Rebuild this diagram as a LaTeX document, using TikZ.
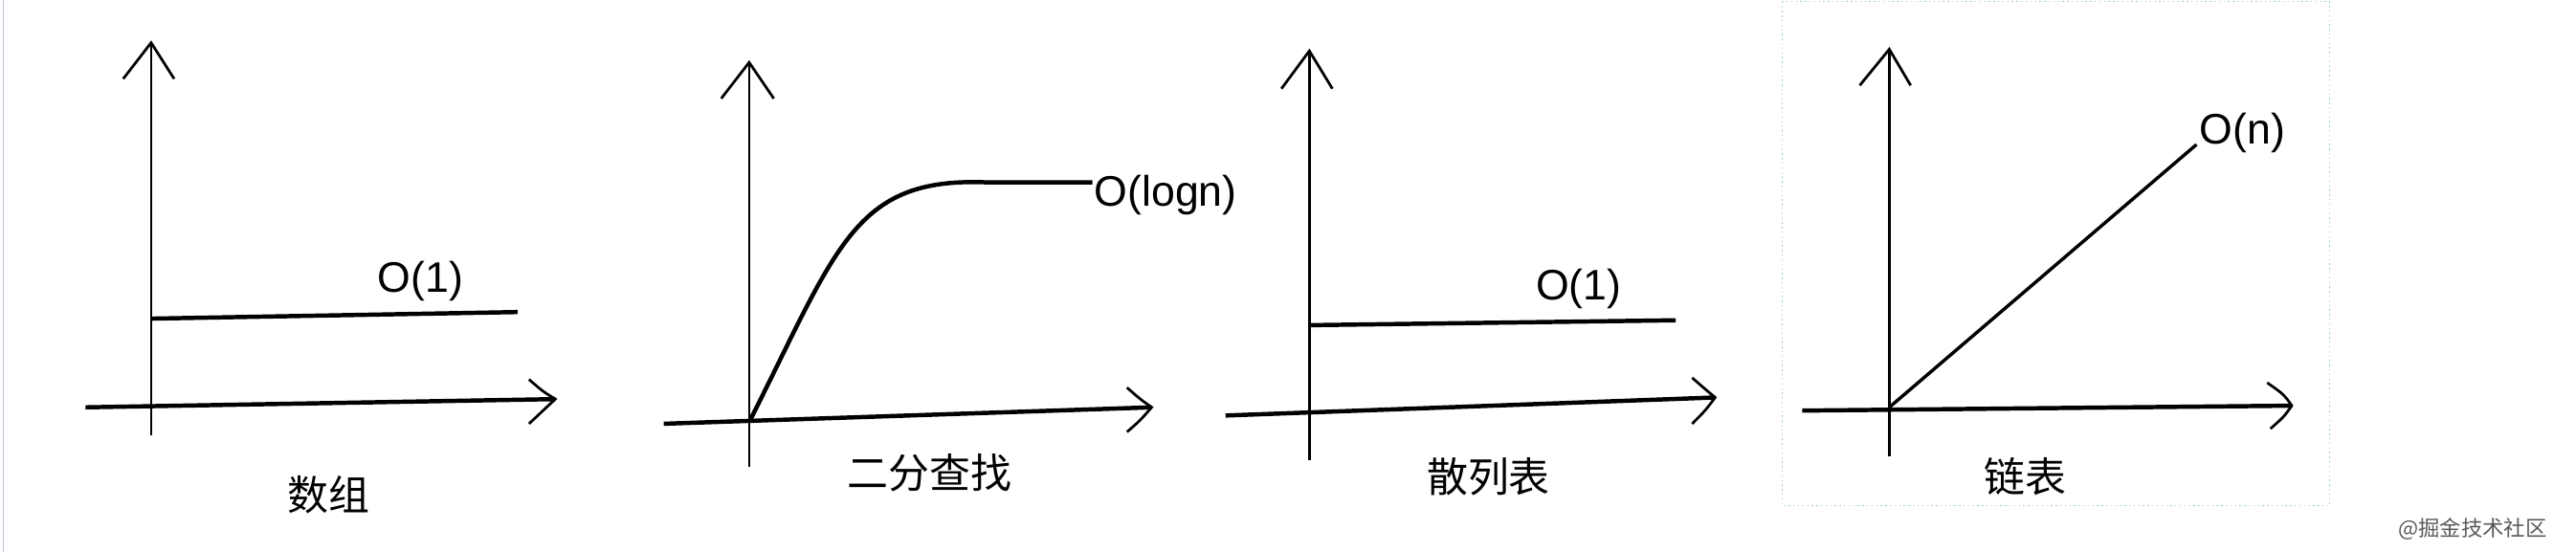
\documentclass[tikz,border=0pt]{standalone}
\usepackage{fontspec}
\setmainfont{Liberation Sans}
\newfontfamily\cjk{Noto Sans CJK SC}
\begin{document}
\begin{tikzpicture}[x=1pt,y=-1pt,
  ax/.style={line width=1.6pt,black},
  xax/.style={line width=2.6pt,black},
  cv/.style={line width=2.6pt,black},
  head/.style={line width=1.6pt,black},
  lbl/.style={font=\fontsize{26}{28}\selectfont,inner sep=0pt},
  zh/.style={font=\cjk\fontsize{25}{27}\selectfont,inner sep=0pt}]
\useasboundingbox (0,0) rectangle (1568,336);
\draw[line width=1pt,blue!20!gray!40] (2,0) -- (2,336);
% panel 1
\coordinate (a1b) at (92,265); \coordinate (a1t) at (92,26);
\draw[ax] (a1b) -- (a1t);
\draw[head] (75,48) -- (a1t) -- (106,48);
\coordinate (x1l) at (52,248); \coordinate (x1r) at (338,243);
\draw[xax] (x1l) -- (x1r);
\draw[head] (322,231) .. controls (330,238) .. (x1r) .. controls (330,250) .. (322,258);
\coordinate (c1a) at (92,194); \coordinate (c1b) at (315,190);
\draw[cv] (c1a) -- (c1b);
\node[lbl] (l1) at (256,171) {O(1)};
\node[zh] (t1) at (200,301) {数组};
% panel 2
\coordinate (a2b) at (456,284); \coordinate (a2t) at (456,38);
\draw[ax] (a2b) -- (a2t);
\draw[head] (439,60) -- (a2t) -- (471,60);
\coordinate (x2l) at (404,258); \coordinate (x2r) at (701,248);
\draw[xax] (x2l) -- (x2r);
\draw[head] (686,236) .. controls (694,243) .. (x2r) .. controls (694,256) .. (686,263);
\coordinate (c2a) at (457,255); \coordinate (c2b) at (665,111);
\draw[cv] (c2a) .. controls (510,150) and (520,108) .. (600,111) -- (c2b);
\node[lbl,anchor=west] (l2) at (666,119) {O(logn)};
\node[zh] (t2) at (566,288) {二分查找};
% panel 3
\coordinate (a3b) at (797,280); \coordinate (a3t) at (797,31);
\draw[ax] (a3b) -- (a3t);
\draw[head] (780,54) -- (a3t) -- (811,54);
\coordinate (x3l) at (746,253); \coordinate (x3r) at (1044,242);
\draw[xax] (x3l) -- (x3r);
\draw[head] (1030,230) .. controls (1038,237) .. (x3r) .. controls (1038,250) .. (1030,258);
\coordinate (c3a) at (797,198); \coordinate (c3b) at (1020,195);
\draw[cv] (c3a) -- (c3b);
\node[lbl] (l3) at (961,176) {O(1)};
\node[zh] (t3) at (906,290) {散列表};
% panel 4
\draw[cyan!50!gray!60,dotted,line width=0.8pt] (1085,1) rectangle (1418,308);
\coordinate (a4b) at (1150,278); \coordinate (a4t) at (1150,30);
\draw[ax] (a4b) -- (a4t);
\draw[head] (1132,52) -- (a4t) -- (1163,52);
\coordinate (x4l) at (1097,250); \coordinate (x4r) at (1395,247);
\draw[xax] (x4l) -- (x4r);
\draw[head] (1380,233) .. controls (1390,240) .. (x4r) .. controls (1390,254) .. (1382,261);
\coordinate (c4a) at (1150,248); \coordinate (c4b) at (1337,88);
\draw[line width=2pt] (c4a) -- (c4b);
\node[lbl] (l4) at (1365,81) {O(n)};
\node[zh] (t4) at (1233,290) {链表};
\node[font=\cjk\fontsize{13}{14}\selectfont,text=gray!70!black,inner sep=0pt] (wm) at (1505,322) {@掘金技术社区};
\end{tikzpicture}
\end{document}
